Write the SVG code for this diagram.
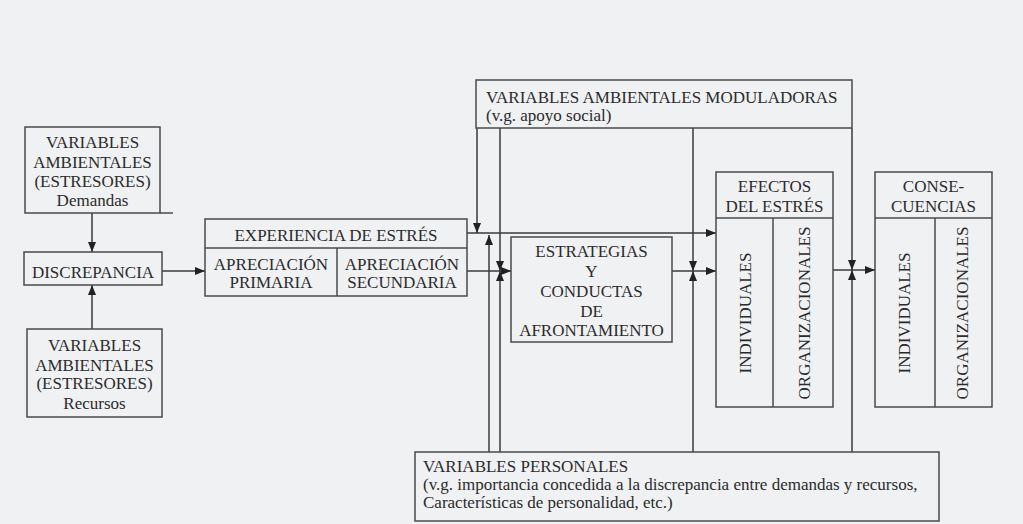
<svg xmlns="http://www.w3.org/2000/svg" width="1023" height="524" viewBox="0 0 1023 524">
<style>
.bg{fill:#f0f1f3}
.box{fill:none;stroke:#4a4a4a;stroke-width:1.5}
.ln{fill:none;stroke:#3a3a3a;stroke-width:1.5}
.t{font-family:"Liberation Serif","Times New Roman",serif;font-size:17px;fill:#2b2b2b}
.c{text-anchor:middle}
</style>
<defs>
<marker id="arr" viewBox="0 0 10 8" refX="10" refY="4" markerWidth="10" markerHeight="8" markerUnits="userSpaceOnUse" orient="auto">
<path d="M0,0 L10,4 L0,8 z" fill="#222"/>
</marker>
</defs>
<rect class="bg" x="0" y="0" width="1023" height="524"/>

<g id="connectors">
<line class="ln" x1="92" y1="213" x2="92" y2="252" marker-end="url(#arr)"/>
<line class="ln" x1="92" y1="329" x2="92" y2="285" marker-end="url(#arr)"/>
<line class="ln" x1="162" y1="271" x2="205" y2="271" marker-end="url(#arr)"/>
<line class="ln" x1="467" y1="233" x2="716" y2="233" marker-end="url(#arr)"/>
<line class="ln" x1="467" y1="271" x2="511" y2="271" marker-end="url(#arr)"/>
<line class="ln" x1="672" y1="271" x2="716" y2="271" marker-end="url(#arr)"/>
<line class="ln" x1="833" y1="270" x2="875" y2="270" marker-end="url(#arr)"/>
<line class="ln" x1="477" y1="128" x2="477" y2="233" marker-end="url(#arr)"/>
<line class="ln" x1="489" y1="452" x2="489" y2="235" marker-end="url(#arr)"/>
<line class="ln" x1="500" y1="128" x2="500" y2="271" marker-end="url(#arr)"/>
<line class="ln" x1="500" y1="452" x2="500" y2="271" marker-end="url(#arr)"/>
<line class="ln" x1="693" y1="128" x2="693" y2="271" marker-end="url(#arr)"/>
<line class="ln" x1="693" y1="452" x2="693" y2="271" marker-end="url(#arr)"/>
<line class="ln" x1="852" y1="128" x2="852" y2="270" marker-end="url(#arr)"/>
<line class="ln" x1="852" y1="452" x2="852" y2="270" marker-end="url(#arr)"/>
</g>

<g id="estresores-demandas">
<rect class="box" x="25" y="127" width="135" height="86"/>
<line class="box" x1="160" y1="213" x2="173" y2="213"/>
<text class="t c" x="92.5" y="148">VARIABLES</text>
<text class="t c" x="92.5" y="168">AMBIENTALES</text>
<text class="t c" x="92.5" y="187">(ESTRESORES)</text>
<text class="t c" x="92.5" y="206">Demandas</text>
</g>

<g id="discrepancia">
<rect class="box" x="24" y="252" width="138" height="33"/>
<text class="t c" x="93" y="278">DISCREPANCIA</text>
</g>

<g id="estresores-recursos">
<rect class="box" x="27" y="329" width="135" height="88"/>
<text class="t c" x="94.5" y="351">VARIABLES</text>
<text class="t c" x="94.5" y="371">AMBIENTALES</text>
<text class="t c" x="94.5" y="389">(ESTRESORES)</text>
<text class="t c" x="94.5" y="409">Recursos</text>
</g>

<g id="experiencia">
<rect class="box" x="205" y="219" width="262" height="77"/>
<line class="box" x1="205" y1="248" x2="467" y2="248"/>
<line class="box" x1="337" y1="248" x2="337" y2="296"/>
<text class="t c" x="336" y="241">EXPERIENCIA DE ESTRÉS</text>
<text class="t c" x="271" y="270">APRECIACIÓN</text>
<text class="t c" x="271" y="288">PRIMARIA</text>
<text class="t c" x="402" y="270">APRECIACIÓN</text>
<text class="t c" x="402" y="288">SECUNDARIA</text>
</g>

<g id="moduladoras">
<rect class="box" x="476" y="80" width="376" height="48"/>
<text class="t" x="486" y="103">VARIABLES AMBIENTALES MODULADORAS</text>
<text class="t" x="486" y="121">(v.g. apoyo social)</text>
</g>

<g id="estrategias">
<rect class="box" x="511" y="237" width="161" height="105"/>
<text class="t c" x="591.5" y="257">ESTRATEGIAS</text>
<text class="t c" x="591.5" y="277">Y</text>
<text class="t c" x="591.5" y="297">CONDUCTAS</text>
<text class="t c" x="591.5" y="317">DE</text>
<text class="t c" x="591.5" y="336">AFRONTAMIENTO</text>
</g>

<g id="efectos">
<rect class="box" x="716" y="172" width="117" height="235"/>
<line class="box" x1="716" y1="218" x2="833" y2="218"/>
<line class="box" x1="773" y1="218" x2="773" y2="407"/>
<text class="t c" x="774.5" y="192">EFECTOS</text>
<text class="t c" x="774.5" y="212">DEL ESTRÉS</text>
<text class="t c" transform="translate(745,313) rotate(-90)" x="0" y="5.5">INDIVIDUALES</text>
<text class="t c" transform="translate(804,313) rotate(-90)" x="0" y="5.5">ORGANIZACIONALES</text>
</g>

<g id="consecuencias">
<rect class="box" x="875" y="172" width="117" height="235"/>
<line class="box" x1="875" y1="218" x2="992" y2="218"/>
<line class="box" x1="935" y1="218" x2="935" y2="407"/>
<text class="t c" x="933.5" y="192">CONSE-</text>
<text class="t c" x="933.5" y="212">CUENCIAS</text>
<text class="t c" transform="translate(904,313) rotate(-90)" x="0" y="5.5">INDIVIDUALES</text>
<text class="t c" transform="translate(962,313) rotate(-90)" x="0" y="5.5">ORGANIZACIONALES</text>
</g>

<g id="personales">
<rect class="box" x="415" y="452" width="524" height="69"/>
<text class="t" x="423" y="472">VARIABLES PERSONALES</text>
<text class="t" x="423" y="490">(v.g. importancia concedida a la discrepancia entre demandas y recursos,</text>
<text class="t" x="423" y="508">Características de personalidad, etc.)</text>
</g>
</svg>
